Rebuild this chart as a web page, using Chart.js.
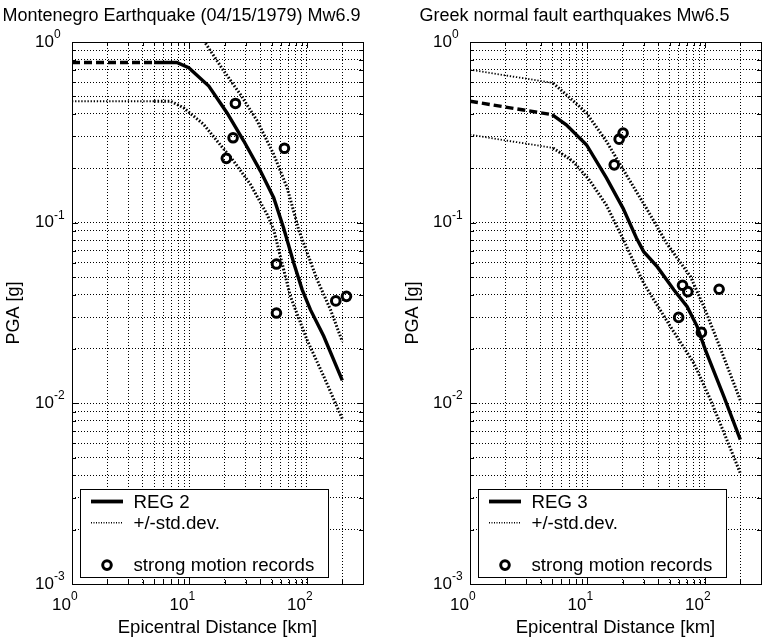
<!DOCTYPE html>
<html>
<head>
<meta charset="utf-8">
<title>PGA attenuation</title>
<script src="https://cdn.jsdelivr.net/npm/chart.js@4.4.0/dist/chart.umd.min.js"></script>
<style>
html, body { margin: 0; padding: 0; background: #fff; overflow: hidden; }
body { width: 777px; height: 644px; position: relative; }
canvas { position: absolute; top: 0; }
#left { left: 0; }
#right { left: 388px; }
</style>
</head>
<body>
<canvas id="left" width="434" height="644"></canvas>
<canvas id="right" width="454" height="644"></canvas>
<script>
// axis decades and the exponent labels drawn next to "10"
const xDecades = [1, 10, 100];
const xDecadeExp = ['0', '1', '2'];
const yDecades = [0.001, 0.01, 0.1, 1];
const yDecadeExp = ['-3', '-2', '-1', '0'];

// Montenegro 1979, REG 2
const mneRegExtX = [1, 5];
const mneRegExtY = [0.77, 0.77];
const mneRegX = [5, 7.8, 9.85, 14.6, 20.9, 29, 40.2, 52.1, 63.2, 77.2, 91, 107, 139, 200];
const mneRegY = [0.77, 0.77, 0.72, 0.57, 0.405, 0.283, 0.193, 0.1375, 0.0938, 0.0598, 0.0426, 0.033, 0.0235, 0.0134];
const mneUpX = [13.2, 19.6, 27.1, 37.7, 52.1, 67.8, 79.8, 85, 122, 158.6, 200];
const mneUpY = [1.02, 0.691, 0.513, 0.366, 0.239, 0.156, 0.1066, 0.0914, 0.0484, 0.033, 0.022];
const mneLoExtX = [1, 5];
const mneLoExtY = [0.47, 0.47];
const mneLoX = [5, 6.9, 8.9, 13.2, 17.2, 23.8, 33, 45.8, 52.1, 72.3, 100, 139, 200];
const mneLoY = [0.47, 0.47, 0.433, 0.35, 0.283, 0.219, 0.163, 0.111, 0.0914, 0.0391, 0.0225, 0.0141, 0.0082];
const mneRecX = [24.6, 23.5, 20.6, 64.3, 55, 55, 176, 217];
const mneRecY = [0.457, 0.295, 0.227, 0.258, 0.059, 0.0316, 0.0369, 0.0391];

// Greek normal faults, REG 3
const grcRegExtX = [1, 5];
const grcRegExtY = [0.47, 0.396];
const grcRegX = [5, 6.6, 9.8, 14.5, 20.1, 26.1, 30.1, 39.2, 54.3, 70.6, 85.9, 101, 145, 200];
const grcRegY = [0.396, 0.348, 0.27, 0.177, 0.12, 0.0823, 0.0691, 0.0571, 0.0425, 0.0343, 0.0266, 0.0197, 0.0109, 0.0063];
const grcUpExtX = [1, 5.1];
const grcUpExtY = [0.703, 0.593];
const grcUpX = [5.1, 6.6, 9.8, 14.5, 21.4, 31.8, 41.2, 47.2, 75.3, 97.8, 127, 200];
const grcUpY = [0.593, 0.511, 0.405, 0.282, 0.184, 0.12, 0.0896, 0.0769, 0.0503, 0.0343, 0.0224, 0.0104];
const grcLoExtX = [1, 5.1];
const grcLoExtY = [0.307, 0.259];
const grcLoX = [5.1, 7.5, 10.4, 14.5, 20.3, 30.1, 50.8, 80.4, 112, 175, 200];
const grcLoY = [0.259, 0.219, 0.172, 0.125, 0.08, 0.0462, 0.0266, 0.0167, 0.0104, 0.0051, 0.0041];
const grcRecX = [20.1, 18.6, 16.9, 64.4, 71.5, 132, 59.7, 93.3];
const grcRecY = [0.313, 0.29, 0.209, 0.045, 0.0415, 0.0428, 0.0299, 0.0247];

const FONT = '"Liberation Sans", Arial, Helvetica, sans-serif';
Chart.defaults.font.family = FONT;
Chart.defaults.color = '#000';

// grid lines at 1..9 x 10^n
function gridValues(decades, max) {
    const out = [];
    decades.forEach(d => {
        for (let k = 1; k <= 9; k++) {
            if (d * k <= max * 1.0001) out.push(d * k);
        }
    });
    return out;
}
const xGrid = gridValues(xDecades, 300);
const yGrid = gridValues(yDecades, 1);

function pts(xs, ys) {
    return xs.map((x, i) => ({ x: x, y: ys[i] }));
}

function lineSet(xs, ys, style, label, row) {
    return Object.assign({
        label: label || '',
        legendRow: row,
        data: pts(xs, ys),
        borderColor: '#000',
        backgroundColor: '#000',
        pointRadius: 0,
        fill: false,
        tension: 0,
    }, style);
}

const solidLine = { borderWidth: 3.4 };
const dashLine = { borderWidth: 3.4, borderDash: [8, 4] };
const dotLine = { borderWidth: 3, borderDash: [1.6, 1.8], borderColor: '#000' };
const thinDot = { borderWidth: 1.8, borderDash: [1.3, 1.8], borderColor: '#000' };

function recordSet(xs, ys) {
    return {
        label: 'strong motion records',
        legendRow: 3,
        data: pts(xs, ys),
        showLine: false,
        pointStyle: 'circle',
        pointRadius: 4.3,
        pointBorderWidth: 3,
        borderColor: '#000',
        pointBorderColor: '#000',
        backgroundColor: 'rgba(0,0,0,0)',
        pointBackgroundColor: 'rgba(0,0,0,0)',
    };
}

// box, inward ticks, superscript tick labels and the boxed legend
const matlabAxes = {
    id: 'matlabAxes',
    afterDatasetsDraw(chart) {
        const ctx = chart.ctx;
        const a = chart.chartArea;
        const xs = chart.scales.x;
        const ys = chart.scales.y;
        ctx.save();
        ctx.strokeStyle = '#000';
        ctx.lineWidth = 1;
        ctx.setLineDash([]);
        ctx.beginPath();
        xs.ticks.forEach(t => {
            const px = Math.round(xs.getPixelForValue(t.value)) + 0.5;
            const len = xDecades.includes(t.value) ? 6 : 4;
            ctx.moveTo(px, a.bottom); ctx.lineTo(px, a.bottom - len);
            ctx.moveTo(px, a.top); ctx.lineTo(px, a.top + len);
        });
        ys.ticks.forEach(t => {
            const py = Math.round(ys.getPixelForValue(t.value)) + 0.5;
            const len = yDecades.some(d => Math.abs(d - t.value) < d * 1e-6) ? 6 : 4;
            ctx.moveTo(a.left, py); ctx.lineTo(a.left + len, py);
            ctx.moveTo(a.right, py); ctx.lineTo(a.right - len, py);
        });
        ctx.stroke();
        ctx.strokeRect(Math.round(a.left) + 0.5, Math.round(a.top) + 0.5,
            Math.round(a.right - a.left), Math.round(a.bottom - a.top));

        // tick labels 10^n
        ctx.fillStyle = '#000';
        ctx.textBaseline = 'alphabetic';
        xDecades.forEach((v, i) => {
            const px = xs.getPixelForValue(v);
            ctx.font = '17px ' + FONT;
            ctx.textAlign = 'right';
            ctx.fillText('10', px - 1, a.bottom + 26);
            ctx.font = '12px ' + FONT;
            ctx.textAlign = 'left';
            ctx.fillText(xDecadeExp[i], px - 1, a.bottom + 16);
        });
        yDecades.forEach((v, i) => {
            const py = ys.getPixelForValue(v);
            ctx.font = '17px ' + FONT;
            ctx.textAlign = 'right';
            ctx.fillText('10', a.left - 18, py + 4.6);
            ctx.font = '12px ' + FONT;
            ctx.textAlign = 'left';
            ctx.fillText(yDecadeExp[i], a.left - 18, py - 4);
        });

        // legend
        const bx = a.left + 8, by = a.bottom - 95, bw = 248, bh = 88;
        ctx.fillStyle = '#fff';
        ctx.fillRect(bx, by, bw, bh);
        ctx.strokeRect(Math.round(bx) + 0.5, Math.round(by) + 0.5, bw, bh);
        chart.data.datasets.forEach(ds => {
            if (ds.legendRow === undefined) return;
            const ry = by + 12.5 + ds.legendRow * 21.2;
            ctx.save();
            ctx.strokeStyle = '#000';
            if (ds.showLine === false) {
                ctx.lineWidth = ds.pointBorderWidth;
                ctx.beginPath();
                ctx.arc(bx + 27, ry, ds.pointRadius, 0, Math.PI * 2);
                ctx.stroke();
            } else {
                const dashed = ds.borderDash && ds.borderDash.length;
                ctx.lineWidth = dashed ? 1.4 : 3.8;
                ctx.setLineDash(dashed ? [1, 1.5] : []);
                ctx.beginPath();
                ctx.moveTo(bx + 11, ry);
                ctx.lineTo(bx + 43, ry);
                ctx.stroke();
            }
            ctx.restore();
            ctx.fillStyle = '#000';
            ctx.font = '18.7px ' + FONT;
            ctx.textAlign = 'left';
            ctx.textBaseline = 'middle';
            ctx.fillText(ds.label, bx + 53.5, ry + 1);
        });
        ctx.restore();
    }
};

function makeOptions(titleText, yAxisWidth, padRight, yTitlePad) {
    return {
        responsive: false,
        animation: false,
        layout: { padding: { left: 0, right: padRight, top: 0, bottom: 0 } },
        plugins: {
            legend: { display: false },
            tooltip: { enabled: false },
            title: {
                display: true,
                text: titleText,
                color: '#000',
                font: { size: 18, weight: 'normal' },
                padding: { top: 5.6, bottom: 14.8 },
            },
        },
        scales: {
            x: {
                type: 'logarithmic',
                min: 1,
                max: 300,
                afterBuildTicks: s => { s.ticks = xGrid.map(v => ({ value: v })); },
                afterFit: s => { s.height = 60; },
                ticks: { display: false },
                grid: { color: '#000', lineWidth: 1, drawTicks: false },
                border: { display: false, dash: [1, 2] },
                title: {
                    display: true,
                    text: 'Epicentral Distance [km]',
                    color: '#000',
                    font: { size: 18.5 },
                    padding: { top: 0, bottom: 4.5 },
                },
            },
            y: {
                type: 'logarithmic',
                min: 0.001,
                max: 1,
                afterBuildTicks: s => { s.ticks = yGrid.map(v => ({ value: v })); },
                afterFit: s => { s.width = yAxisWidth; },
                ticks: { display: false },
                grid: { color: '#000', lineWidth: 1, drawTicks: false },
                border: { display: false, dash: [1, 2] },
                title: {
                    display: true,
                    text: 'PGA [g]',
                    color: '#000',
                    font: { size: 18 },
                    padding: { top: yTitlePad, bottom: 0 },
                },
            },
        },
    };
}

new Chart(document.getElementById('left'), {
    type: 'line',
    data: {
        datasets: [
            recordSet(mneRecX, mneRecY),
            lineSet(mneRegX, mneRegY, solidLine, 'REG 2', 0),
            lineSet(mneRegExtX, mneRegExtY, dashLine),
            lineSet(mneUpX, mneUpY, dotLine, '+/-std.dev.', 1),
            lineSet(mneLoX, mneLoY, dotLine),
            lineSet(mneLoExtX, mneLoExtY, thinDot),
        ],
    },
    options: makeOptions('Montenegro Earthquake (04/15/1979) Mw6.9', 72, 71, 3.6),
    plugins: [matlabAxes],
});

new Chart(document.getElementById('right'), {
    type: 'line',
    data: {
        datasets: [
            recordSet(grcRecX, grcRecY),
            lineSet(grcRegX, grcRegY, solidLine, 'REG 3', 0),
            lineSet(grcRegExtX, grcRegExtY, dashLine),
            lineSet(grcUpX, grcUpY, dotLine, '+/-std.dev.', 1),
            lineSet(grcUpExtX, grcUpExtY, thinDot),
            lineSet(grcLoX, grcLoY, dotLine),
            lineSet(grcLoExtX, grcLoExtY, thinDot),
        ],
    },
    options: makeOptions('Greek normal fault earthquakes Mw6.5', 82, 81, 13.9),
    plugins: [matlabAxes],
});
</script>
</body>
</html>
